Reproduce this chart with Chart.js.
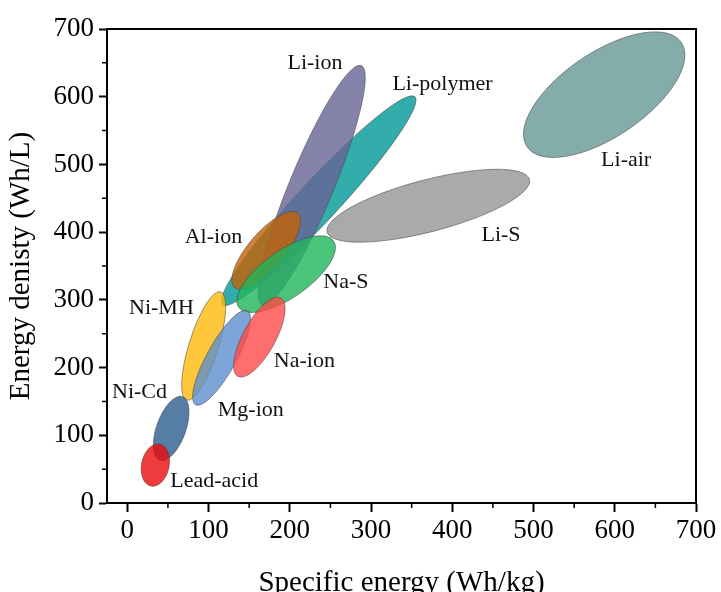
<!DOCTYPE html>
<html>
<head>
<meta charset="utf-8">
<script src="https://cdn.jsdelivr.net/npm/chart.js@4.4.1/dist/chart.umd.min.js"></script>
<style>
  html, body { margin: 0; padding: 0; background: #fff; }
  #wrap { width: 721px; height: 592px; }
</style>
</head>
<body>
<div id="wrap"><canvas id="myChart" width="721" height="592"></canvas></div>
<script>
// battery chemistries, drawn back to front
const techs = ['Li-air', 'Li-S', 'Li-polymer', 'Li-ion', 'Al-ion', 'Na-S', 'Ni-MH', 'Mg-ion', 'Na-ion', 'Ni-Cd', 'Lead-acid'];
// ends of each ellipse's long axis (Wh/kg, Wh/L)
const energyLo  = [492, 246, 117, 166, 132, 137, 73, 84, 136, 40, 29];
const energyHi  = [682, 495, 354, 288, 210, 254, 115, 148, 189, 68, 40];
const densityLo = [526, 400, 293, 292, 318, 289, 152, 145, 187, 63, 25];
const densityHi = [680, 478, 600, 646, 428, 387, 312, 284, 303, 157, 87];
// half width of each ellipse, in Wh/kg
const spread = [52, 32, 25, 27, 22, 29, 18, 18, 20, 18, 17];
// where the name sits
const labelX = [614, 460, 388, 231, 106, 269, 42, 152, 218, 15, 107];
const labelY = [506, 395, 619, 649, 392, 326, 288, 137, 209, 164, 32];
const fills = [
  'rgba(101,151,149,0.8)', 'rgba(149,149,149,0.8)', 'rgba(0,151,151,0.8)', 'rgba(104,100,150,0.8)',
  'rgba(196,98,6,0.8)', 'rgba(32,181,91,0.8)', 'rgba(255,186,11,0.8)', 'rgba(92,142,205,0.8)',
  'rgba(255,74,74,0.8)', 'rgba(42,92,142,0.8)', 'rgba(235,10,10,0.8)'
];

const xTicks = [0, 100, 200, 300, 400, 500, 600, 700];
const yTicks = [0, 100, 200, 300, 400, 500, 600, 700];

const FONT = "'Liberation Serif', 'Times New Roman', serif";

// ellipses + names are painted with the chart's own scales
const ellipsePlugin = {
  id: 'ellipses',
  beforeDatasetsDraw(chart) {
    const { ctx, chartArea, scales: { x, y } } = chart;
    ctx.save();
    ctx.beginPath();
    ctx.rect(chartArea.left, chartArea.top, chartArea.width, chartArea.height);
    ctx.clip();
    techs.forEach((t, i) => {
      const x1 = x.getPixelForValue(energyLo[i]), y1 = y.getPixelForValue(densityLo[i]);
      const x2 = x.getPixelForValue(energyHi[i]), y2 = y.getPixelForValue(densityHi[i]);
      const a = Math.hypot(x2 - x1, y2 - y1) / 2;
      const b = Math.abs(x.getPixelForValue(spread[i]) - x.getPixelForValue(0));
      ctx.beginPath();
      ctx.ellipse((x1 + x2) / 2, (y1 + y2) / 2, a, b, Math.atan2(y2 - y1, x2 - x1), 0, Math.PI * 2);
      ctx.fillStyle = fills[i];
      ctx.fill();
      ctx.lineWidth = 0.8;
      ctx.strokeStyle = 'rgba(70,70,70,0.7)';
      ctx.stroke();
    });
    ctx.restore();

    ctx.save();
    ctx.font = '22px ' + FONT;
    ctx.fillStyle = '#111';
    ctx.textAlign = 'center';
    ctx.textBaseline = 'middle';
    techs.forEach((t, i) => {
      ctx.fillText(t, x.getPixelForValue(labelX[i]), y.getPixelForValue(labelY[i]));
    });
    ctx.restore();
  },
  afterDraw(chart) {
    const { ctx, chartArea, scales: { x, y } } = chart;
    ctx.save();
    ctx.strokeStyle = '#000';
    ctx.lineWidth = 2;
    // top and right frame
    ctx.beginPath();
    ctx.moveTo(chartArea.left, chartArea.top);
    ctx.lineTo(chartArea.right, chartArea.top);
    ctx.lineTo(chartArea.right, chartArea.bottom);
    ctx.stroke();
    // minor ticks
    ctx.lineWidth = 1.5;
    ctx.beginPath();
    for (let v = 50; v < 700; v += 100) {
      const px = x.getPixelForValue(v);
      ctx.moveTo(px, chartArea.bottom);
      ctx.lineTo(px, chartArea.bottom + 5);
      const py = y.getPixelForValue(v);
      ctx.moveTo(chartArea.left, py);
      ctx.lineTo(chartArea.left - 5, py);
    }
    ctx.stroke();
    ctx.restore();
  }
};

const ctx = document.getElementById('myChart').getContext('2d');
const myChart = new Chart(ctx, {
  type: 'scatter',
  data: {
    datasets: [{
      label: 'centres',
      data: techs.map((t, i) => ({ x: (energyLo[i] + energyHi[i]) / 2, y: (densityLo[i] + densityHi[i]) / 2 })),
      pointRadius: 0
    }]
  },
  options: {
    responsive: false,
    animation: false,
    layout: { padding: { top: 29, right: 25, left: 0, bottom: 0 } },
    plugins: { legend: { display: false }, tooltip: { enabled: false } },
    scales: {
      x: {
        type: 'linear',
        min: -25,
        max: 700,
        afterBuildTicks(scale) { scale.ticks = xTicks.map(v => ({ value: v })); },
        afterFit(scale) { scale.height = 89; },
        border: { display: true, color: '#000', width: 2 },
        grid: { drawOnChartArea: false, drawTicks: true, tickLength: 9, tickWidth: 2, tickColor: '#000' },
        ticks: { color: '#000', padding: 3, maxRotation: 0, font: { family: FONT, size: 27 } },
        title: { display: true, text: 'Specific energy (Wh/kg)', color: '#000', padding: { top: 0, bottom: -9 }, font: { family: FONT, size: 29 } }
      },
      y: {
        type: 'linear',
        min: 0,
        max: 700,
        afterBuildTicks(scale) { scale.ticks = yTicks.map(v => ({ value: v })); },
        afterFit(scale) { scale.width = 107; },
        border: { display: true, color: '#000', width: 2 },
        grid: { drawOnChartArea: false, drawTicks: true, tickLength: 8, tickWidth: 2, tickColor: '#000' },
        ticks: { color: '#000', padding: 5, font: { family: FONT, size: 27 } },
        title: { display: true, text: 'Energy denisty (Wh/L)', color: '#000', padding: { bottom: 4 }, font: { family: FONT, size: 29 } }
      }
    }
  },
  plugins: [ellipsePlugin]
});
</script>
</body>
</html>
